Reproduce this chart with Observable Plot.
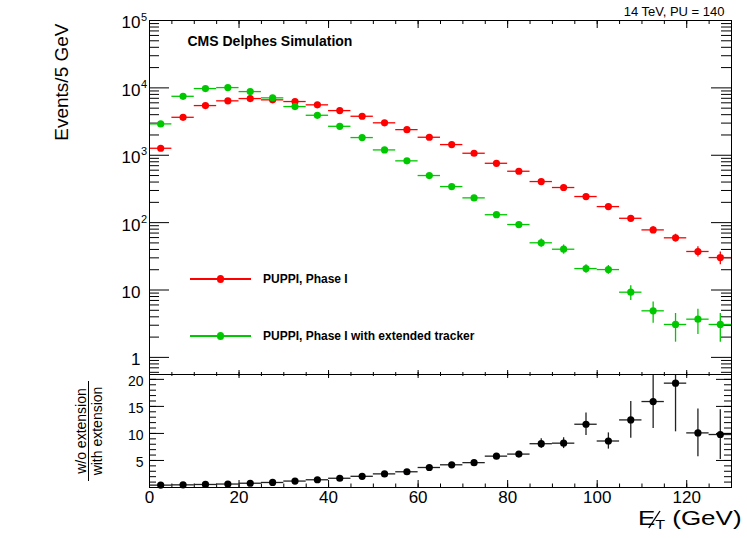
<!DOCTYPE html>
<html><head><meta charset="utf-8">
<script src="https://cdn.jsdelivr.net/npm/d3@7"></script>
<script src="https://cdn.jsdelivr.net/npm/@observablehq/plot@0.6"></script>
<style>
body{margin:0;background:white;font-family:"Liberation Sans",Arial,Helvetica,sans-serif;}
#wrap{position:relative;width:747px;height:538px;overflow:hidden;background:white}
#wrap svg{position:absolute;left:0}
.leg{position:absolute;display:flex;align-items:center;height:14px;font-weight:bold;font-size:12px;color:#000;white-space:nowrap}
.sw{position:relative;width:61px;height:1.4px;margin-right:12px}
.sw i{position:absolute;left:27px;top:-2.9px;width:7.2px;height:7.2px;border-radius:50%}
#rlab{position:absolute;left:40px;top:416px;width:100px;transform:rotate(-90deg);transform-origin:50% 50%;text-align:center;font-size:14px;color:#000}
#rlab .num{line-height:13px;border-bottom:1px solid #000}
#rlab .den{line-height:16px}
#xlab{position:absolute;right:5px;top:508px;font-size:20px;line-height:20px;color:#000;white-space:nowrap;transform:scaleX(1.3);transform-origin:100% 50%}
#xlab .E{position:relative;display:inline-block}
#xlab .E b{position:absolute;left:0.6em;top:0.12em;height:0.95em;width:0;border-left:1.3px solid #000;transform:rotate(27deg);transform-origin:50% 50%}
#xlab sub{font-size:0.62em;vertical-align:-0.3em;margin-left:-0.02em}
</style></head><body><div id="wrap"></div>
<script>
// ---- data ----
const xCenters = [2.5,7.5,12.5,17.5,22.5,27.5,32.5,37.5,42.5,47.5,52.5,57.5,62.5,67.5,72.5,77.5,82.5,87.5,92.5,97.5,102.5,107.5,112.5,117.5,122.5,127.5];
const redVals   = [1270,3660,5460,6420,6940,6640,6270,5600,4600,3790,3030,2400,1850,1440,1071,760,579,407,332,244,173,116,78,59.5,37.3,30.3];
const redErr    = [36,60,74,80,83,81,79,75,68,62,55,49,43,38,33,28,24,20,18,16,13,11,9,7.7,6.5,6.5];
const greenVals = [2920,7500,9770,10100,8810,7110,5280,3920,2690,1830,1200,826,500,343,233,131,93.7,50.2,40.3,20.8,20.1,9.28,4.91,3.08,3.69,3.08];
const greenErr  = [54,87,99,100,94,84,73,63,52,43,35,29,22,19,15,11,9.7,7,6.3,3,3,2.3,1.7,1.4,1.5,1.4];
const ratioVals = [0.44,0.49,0.56,0.64,0.79,0.93,1.19,1.43,1.71,2.07,2.52,2.91,3.70,4.20,4.60,5.80,6.18,8.10,8.20,11.7,8.6,12.5,15.9,19.3,10.1,9.8];
const ratioErr  = [0.03,0.03,0.03,0.03,0.04,0.05,0.06,0.07,0.08,0.1,0.12,0.15,0.2,0.25,0.35,0.4,0.45,0.9,1.0,2.1,1.5,3.4,5.0,9.0,4.4,4.6];
const binHalf = 2.5;

const seriesNames = ["PUPPI, Phase I", "PUPPI, Phase I with extended tracker"];
const seriesColors = ["#ff0000", "#00c800"];

const xMajorTicks = [0,20,40,60,80,100,120];
const xMinorTicks = [0,5,10,15,20,25,30,35,40,45,50,55,60,65,70,75,80,85,90,95,100,105,110,115,120,125];
const yDecades = [1,10,100,1000,10000,100000];
const yBase = ["1","10","10","10","10","10"];
const yExp  = ["","","2","3","4","5"];
const yMinorTicks = [];
[0.1,1,10,100,1000,10000].forEach(d => { for (let k = 2; k <= 9; k++) yMinorTicks.push(k * d); });
const yDomain = [0.557, 100000];
const yMinorIn = yMinorTicks.filter(v => v >= yDomain[0] && v <= yDomain[1]);
const ratioMajor = [5,10,15,20];
const ratioMinor = [1,2,3,4,5,6,7,8,9,10,11,12,13,14,15,16,17,18,19,20];
const ratioDomain = [0, 20.9];

const rows = xCenters.map((x, i) => ({x, red: redVals[i], redErr: redErr[i], green: greenVals[i], greenErr: greenErr[i], ratio: ratioVals[i], ratioErr: ratioErr[i]}));

// ---- layout ----
const W = 747, ML = 149, MR = 16;
const IW = W - ML - MR;
const topH = 374, topMT = 20, IH1 = topH - topMT;
const botH = 164, botMB = 51, IH2 = botH - botMB;
const font = '"Liberation Sans", Arial, Helvetica, sans-serif';

function seriesMarks(key, errKey, color) {
  return [
    Plot.ruleY(rows, {y: key, x1: d => d.x - binHalf, x2: d => d.x + binHalf, stroke: color, strokeWidth: 1.3}),
    Plot.ruleX(rows, {x: "x", y1: d => d[key] - d[errKey], y2: d => d[key] + d[errKey], stroke: color, strokeWidth: 1.3}),
    Plot.dot(rows, {x: "x", y: key, r: 3.6, fill: color})
  ];
}

const topPlot = Plot.plot({
  width: W, height: topH,
  marginLeft: ML, marginRight: MR, marginTop: topMT, marginBottom: 0,
  style: {fontFamily: font, background: "white", overflow: "visible"},
  x: {domain: [0, 130], axis: null},
  y: {type: "log", domain: yDomain, axis: null},
  marks: [
    Plot.tickY(yDecades, {y: d => d, insetRight: IW - 20, stroke: "black"}),
    Plot.tickY(yDecades, {y: d => d, insetLeft: IW - 20, stroke: "black"}),
    Plot.tickY(yMinorIn, {y: d => d, insetRight: IW - 10, stroke: "black"}),
    Plot.tickY(yMinorIn, {y: d => d, insetLeft: IW - 10, stroke: "black"}),
    Plot.tickX(xMajorTicks, {x: d => d, insetBottom: IH1 - 8, stroke: "black"}),
    Plot.tickX(xMinorTicks, {x: d => d, insetBottom: IH1 - 4, stroke: "black"}),
    Plot.tickX(xMajorTicks, {x: d => d, insetTop: IH1 - 4, stroke: "black"}),
    Plot.tickX(xMinorTicks, {x: d => d, insetTop: IH1 - 2, stroke: "black"}),
    ...seriesMarks("red", "redErr", seriesColors[0]),
    ...seriesMarks("green", "greenErr", seriesColors[1]),
    Plot.frame({stroke: "black", strokeWidth: 1}),
    Plot.text(yDecades, {y: d => d, frameAnchor: "left", lineAnchor: "middle", text: (d, i) => yBase[i], textAnchor: "end", dx: -9, dy: 2.5, fontSize: 17, fill: "black", ariaLabel: "ytick-base"}),
    Plot.text(yDecades, {y: d => d, frameAnchor: "left", lineAnchor: "middle", text: (d, i) => yExp[i], textAnchor: "start", dx: -8.5, dy: -3.5, fontSize: 11, fill: "black", ariaLabel: "ytick-exp"}),
    Plot.text(["Events/5 GeV"], {frameAnchor: "top-left", lineAnchor: "middle", text: d => d, rotate: -90, textAnchor: "end", dx: -88, dy: 3, fontSize: 19, fill: "black"}),
    Plot.text(["CMS Delphes Simulation"], {frameAnchor: "top-left", lineAnchor: "middle", text: d => d, textAnchor: "start", dx: 38, dy: 21, fontSize: 14, fontWeight: "bold", fill: "black"}),
    Plot.text(["14 TeV, PU = 140"], {frameAnchor: "top-right", lineAnchor: "middle", text: d => d, textAnchor: "end", dx: -7, dy: -9, fontSize: 13, fill: "black"})
  ]
});
topPlot.style.top = "0px";

const botPlot = Plot.plot({
  width: W, height: botH,
  marginLeft: ML, marginRight: MR, marginTop: 0, marginBottom: botMB,
  style: {fontFamily: font, background: "white", overflow: "visible"},
  x: {domain: [0, 130], axis: null},
  y: {domain: ratioDomain, axis: null},
  marks: [
    Plot.tickY(ratioMajor, {y: d => d, insetRight: IW - 15, stroke: "black"}),
    Plot.tickY(ratioMajor, {y: d => d, insetLeft: IW - 15, stroke: "black"}),
    Plot.tickY(ratioMinor, {y: d => d, insetRight: IW - 7, stroke: "black"}),
    Plot.tickY(ratioMinor, {y: d => d, insetLeft: IW - 7, stroke: "black"}),
    Plot.tickX(xMajorTicks, {x: d => d, insetBottom: IH2 - 4, stroke: "black"}),
    Plot.tickX(xMinorTicks, {x: d => d, insetBottom: IH2 - 2, stroke: "black"}),
    Plot.tickX(xMajorTicks, {x: d => d, insetTop: IH2 - 7, stroke: "black"}),
    Plot.tickX(xMinorTicks, {x: d => d, insetTop: IH2 - 3.5, stroke: "black"}),
    Plot.ruleY(rows, {y: "ratio", x1: d => d.x - binHalf, x2: d => d.x + binHalf, stroke: "#222", strokeWidth: 1.3}),
    Plot.ruleX(rows, {x: "x", y1: d => Math.max(ratioDomain[0], d.ratio - d.ratioErr), y2: d => Math.min(ratioDomain[1], d.ratio + d.ratioErr), stroke: "#222", strokeWidth: 1.3}),
    Plot.dot(rows, {x: "x", y: "ratio", r: 3.6, fill: "black"}),
    Plot.frame({stroke: "black", strokeWidth: 1}),
    Plot.text(ratioMajor, {y: d => d, frameAnchor: "left", lineAnchor: "middle", text: d => String(d), textAnchor: "end", dx: -6, dy: 2, fontSize: 14, fill: "black", ariaLabel: "rtick-labels"}),
    Plot.text(xMajorTicks, {x: d => d, frameAnchor: "bottom", lineAnchor: "middle", text: d => String(d), dy: 10, fontSize: 17, fill: "black", ariaLabel: "xtick-labels"})
  ]
});
botPlot.style.top = topH + "px";

// widen tick-label glyphs horizontally (the reference's glyphs are wide)
function stretch(svg, label, sx) {
  svg.querySelectorAll(`g[aria-label="${label}"] text`).forEach(t => {
    const x = +(t.getAttribute("x") || 0), y = +(t.getAttribute("y") || 0);
    const tr = t.getAttribute("transform") || "";
    t.setAttribute("x", 0); t.setAttribute("y", 0);
    t.setAttribute("transform", `${tr} translate(${x},${y}) scale(${sx},1)`);
  });
}
stretch(topPlot, "ytick-base", 1.35);
stretch(topPlot, "ytick-exp", 1.2);
stretch(botPlot, "rtick-labels", 1.25);
stretch(botPlot, "xtick-labels", 1.25);

const wrap = document.getElementById("wrap");
wrap.appendChild(topPlot);
wrap.appendChild(botPlot);

const legTops = [272, 329];
seriesNames.forEach((name, i) => {
  const row = document.createElement("div");
  row.className = "leg";
  row.style.left = "190px";
  row.style.top = legTops[i] + "px";
  const sw = document.createElement("div");
  sw.className = "sw";
  sw.style.background = seriesColors[i];
  const dot = document.createElement("i");
  dot.style.background = seriesColors[i];
  sw.appendChild(dot);
  const t = document.createElement("span");
  t.textContent = name;
  row.appendChild(sw);
  row.appendChild(t);
  wrap.appendChild(row);
});

const rl = document.createElement("div");
rl.id = "rlab";
rl.innerHTML = '<div class="num">w/o extension</div><div class="den">with extension</div>';
wrap.appendChild(rl);

const xl = document.createElement("div");
xl.id = "xlab";
xl.innerHTML = '<span class="E">E<b></b></span><sub>T</sub> (GeV)';
wrap.appendChild(xl);
</script>
</body></html>
